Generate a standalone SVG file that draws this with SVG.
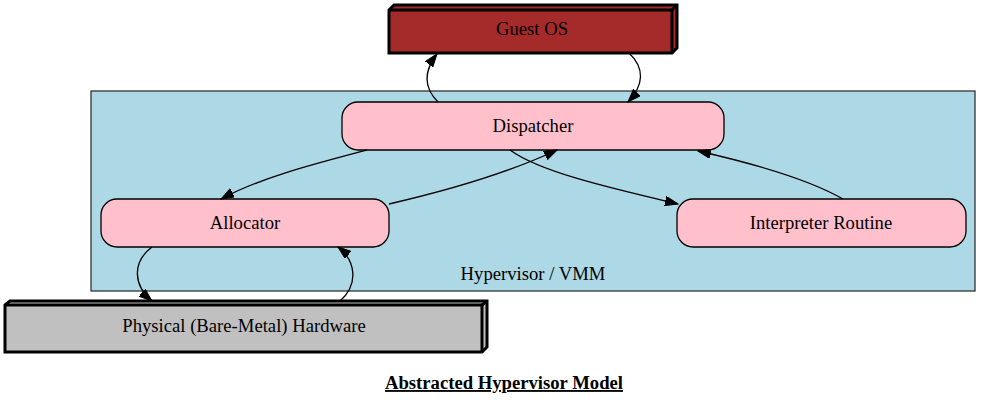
<svg xmlns="http://www.w3.org/2000/svg" width="992" height="404" viewBox="0 0 992 404">
<defs>
<marker id="ah" markerUnits="userSpaceOnUse" markerWidth="14" markerHeight="10" refX="13" refY="4.7" orient="auto" viewBox="0 0 14 10">
<path d="M0,0 L13,4.7 L0,9.4 z" fill="#000" stroke="#000" stroke-width="1"/>
</marker>
<style>
text{font-family:"Liberation Serif","Times New Roman",serif;font-size:18.67px;fill:#000;text-anchor:middle}
.node{fill:#ffc0cb;stroke:#000;stroke-width:1.3}
.b3d{stroke:#000;stroke-width:3;stroke-linejoin:miter}
.edge{fill:none;stroke:#000;stroke-width:1.3}
</style>
</defs>
<rect width="992" height="404" fill="#fff"/>
<g id="cluster_hypervisor">
<rect x="91" y="91" width="884" height="200" fill="#add8e6" stroke="#333" stroke-width="1.3"/>
<text x="533" y="280">Hypervisor / VMM</text>
</g>
<g id="guest_os">
<polygon class="b3d" points="389,10 394,5 677,5 677,48 672,53 389,53" fill="#a52a2a"/>
<polyline class="b3d" points="389,10 672,10 672,53" fill="none"/>
<line class="b3d" x1="672" y1="10" x2="677" y2="5"/>
<text x="532" y="35">Guest OS</text>
</g>
<g id="dispatcher">
<rect class="node" x="342" y="102" width="382" height="48" rx="16" ry="16"/>
<text x="533" y="132">Dispatcher</text>
</g>
<g id="allocator">
<rect class="node" x="101" y="199" width="288" height="48" rx="16" ry="16"/>
<text x="245" y="229">Allocator</text>
</g>
<g id="interpreter">
<rect class="node" x="677" y="199" width="289" height="48" rx="16" ry="16"/>
<text x="821" y="229">Interpreter Routine</text>
</g>
<g id="hardware">
<polygon class="b3d" points="5,305 10,301 487,301 487,347 482,352 5,352" fill="#c0c0c0"/>
<polyline class="b3d" points="5,305 482,305 482,352" fill="none"/>
<line class="b3d" x1="482" y1="305" x2="487" y2="301"/>
<text x="244" y="332">Physical (Bare-Metal) Hardware</text>
</g>
<g id="edges">
<path class="edge" marker-end="url(#ah)" d="M438,102 C428,92 420,76 437,54"/>
<path class="edge" marker-end="url(#ah)" d="M629,53 C645,68 644,85 628,102"/>
<path class="edge" marker-end="url(#ah)" d="M367,150 C310,165 260,178 221,199"/>
<path class="edge" marker-end="url(#ah)" d="M389,204 C450,190 510,172 557,150"/>
<path class="edge" marker-end="url(#ah)" d="M510,150 C540,172 610,188 678,204"/>
<path class="edge" marker-end="url(#ah)" d="M843,199 C810,180 760,165 698,151"/>
<path class="edge" marker-end="url(#ah)" d="M152,247 C132,262 133,285 152,301"/>
<path class="edge" marker-end="url(#ah)" d="M340,301 C358,285 357,262 338,247"/>
</g>
<g id="title">
<text x="504" y="389" font-weight="bold" text-decoration="underline">Abstracted Hypervisor Model</text>
</g>
</svg>
